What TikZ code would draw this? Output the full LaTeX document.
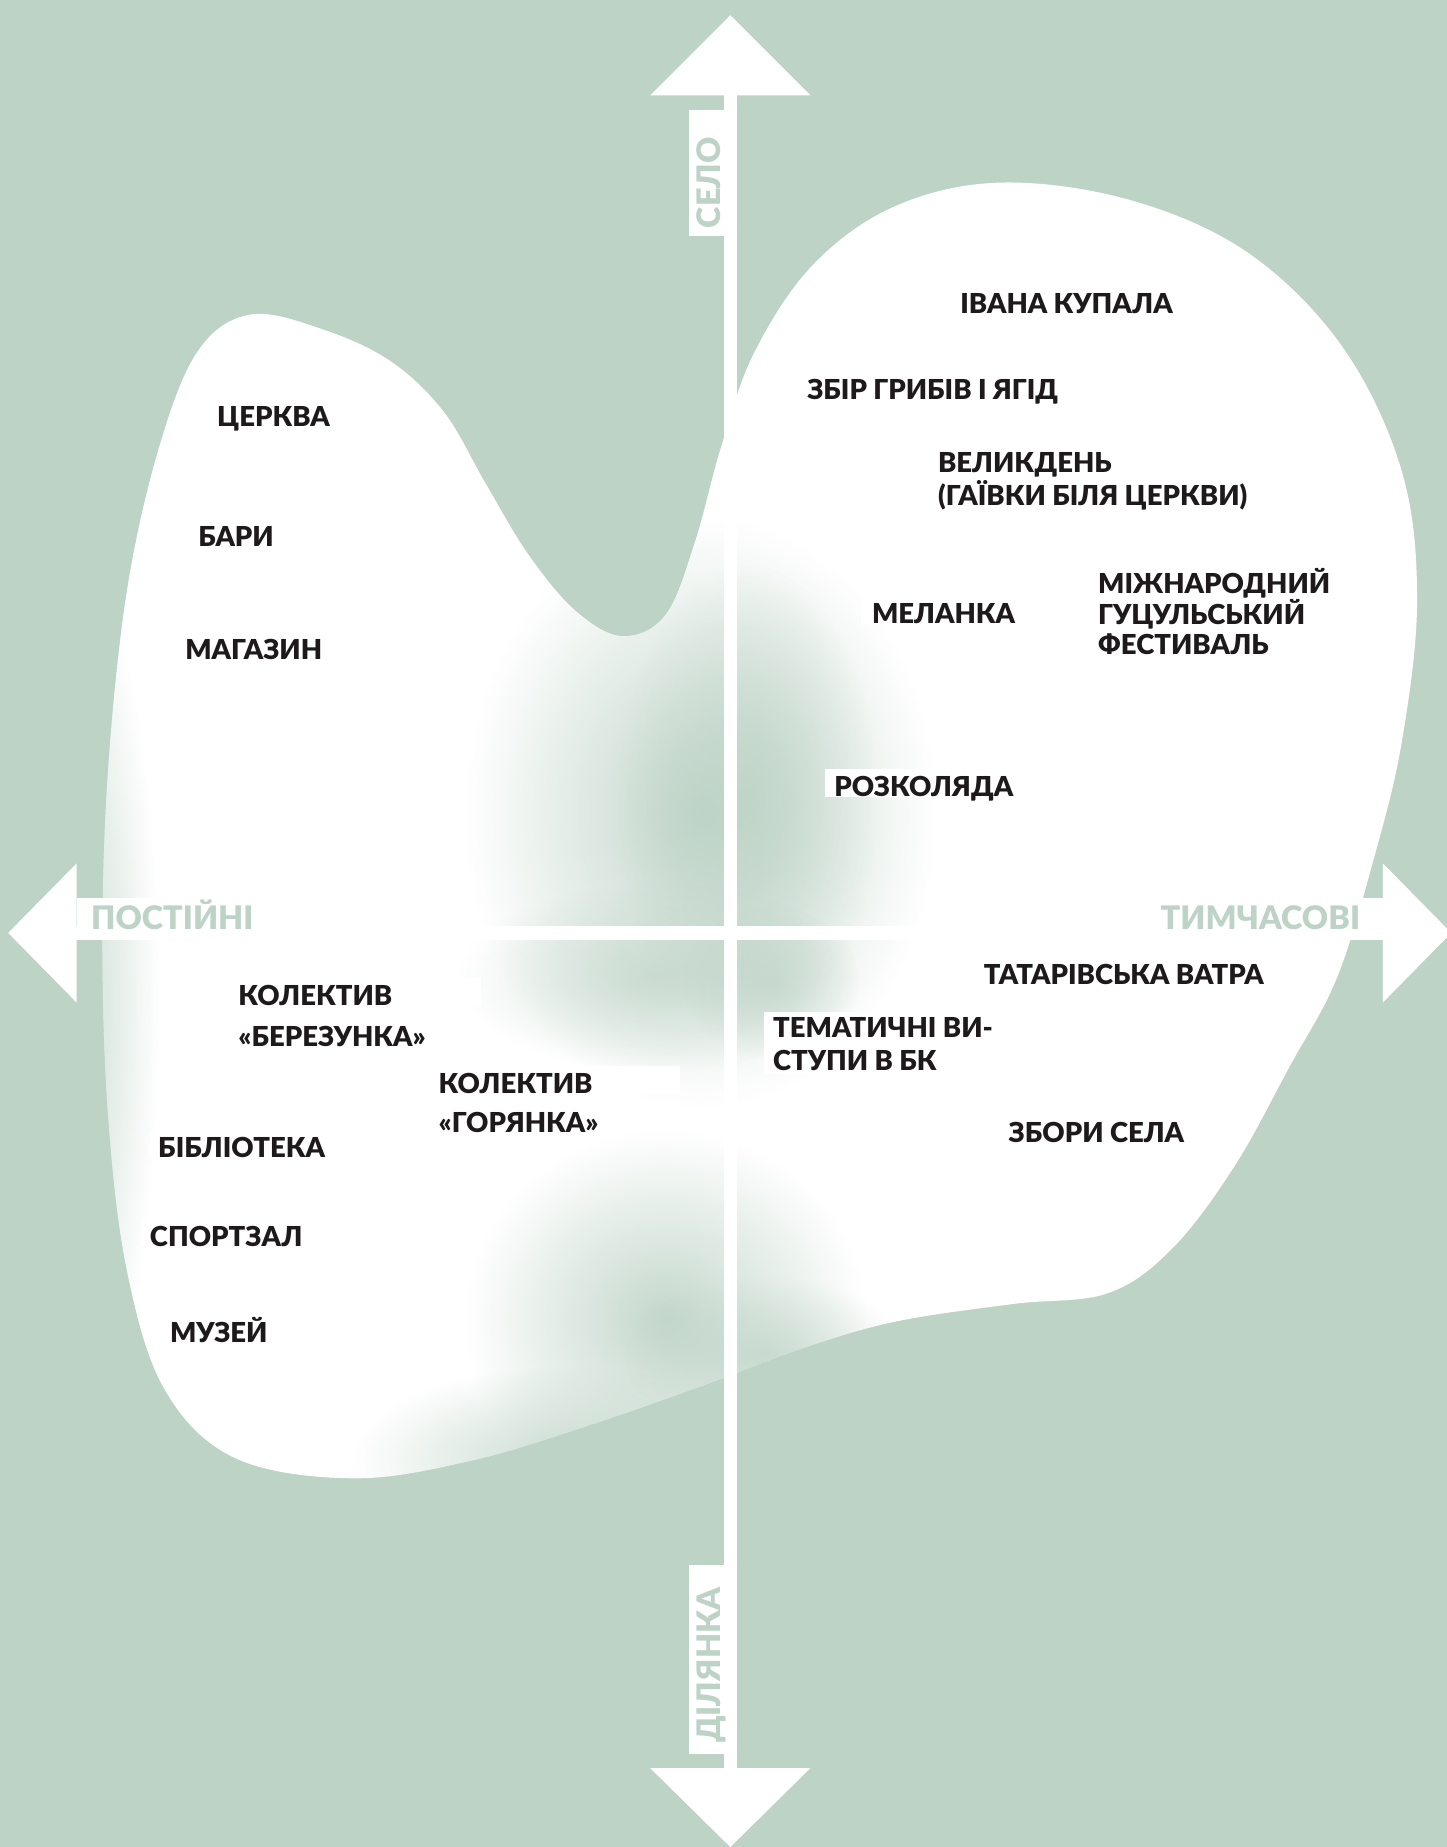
\documentclass[tikz,border=0pt]{standalone}
\usepackage{fontspec}
\setmainfont{Lato}[BoldFont={Lato Black}]
\usetikzlibrary{fadings}
\definecolor{bgc}{RGB}{189,211,198}
\definecolor{ink}{RGB}{30,26,27}
\tikzfading[name=softspot, inner color=transparent!0, outer color=transparent!100]
\def\blobpath{plot[smooth cycle, tension=0.6] coordinates {
(213,267) (275,280) (332,307) (377,350) (412,410) (448,470) (488,518) (528,540) (565,522)
(590,460) (612,380) (640,300) (690,225) (760,175) (850,155) (960,170) (1060,215)
(1140,295) (1190,400) (1203,510) (1190,630) (1166,730) (1135,830) (1095,905)
(1048,990) (995,1060) (940,1098) (860,1107) (760,1122) (680,1145) (600,1175)
(500,1210) (400,1240) (300,1255) (200,1238) (140,1180) (108,1080) (92,950)
(87,800) (92,650) (108,500) (135,380) (168,298)}}
\begin{document}
\begin{tikzpicture}[x=0.6pt,y=-0.6pt,
  lbl/.style={font=\fontsize{14}{16.8}\selectfont\bfseries, text=ink, inner sep=0pt, anchor=base west},
  axlbl/.style={font=\fontsize{16.5}{18}\selectfont\bfseries, text=bgc, inner sep=0pt, anchor=base west},
  hl/.style={fill=white},
  arrowshape/.style={fill=white},
  shadow/.style={fill=bgc, path fading=softspot}]
% background
\fill[bgc] (0,0) rectangle (1228,1568);
\useasboundingbox (0,0) rectangle (1228,1568);
% blob
\fill[white] \blobpath;
\begin{scope}
\clip \blobpath;
\fill[shadow, fill opacity=0.95] (595,690) ellipse (200 and 250);
\fill[shadow, fill opacity=0.8] (635,680) ellipse (110 and 200);
\fill[shadow, fill opacity=0.7] (560,830) ellipse (170 and 80);
\fill[shadow, fill opacity=0.9] (565,1120) ellipse (170 and 160);
\fill[shadow, fill opacity=0.8] (60,850) ellipse (75 and 380);
\fill[shadow, fill opacity=0.8] (480,1240) ellipse (180 and 80);
\fill[shadow, fill opacity=0.6] (655,835) ellipse (75 and 65);
\fill[shadow, fill opacity=0.7] (650,1150) ellipse (120 and 65);
\end{scope}
% label highlight boxes
\fill[hl] (177,338) rectangle (365,362);
\fill[hl] (164,441) rectangle (315,464);
\fill[hl] (151,537) rectangle (338,560);
\fill[hl] (678,315) rectangle (900,339);
\fill[hl] (789,378) rectangle (1062,431);
\fill[hl] (731,506) rectangle (927,530);
\fill[hl] (927,480) rectangle (1132,558);
\fill[hl] (700,653) rectangle (913,677);
\fill[hl] (649,859) rectangle (842,912);
\fill[hl] (197,830) rectangle (408,854);
\fill[hl] (197,864) rectangle (408,888);
\fill[hl] (365,905) rectangle (577,929);
\fill[hl] (365,938) rectangle (577,961);
\fill[hl] (127,960) rectangle (316,983);
\fill[hl] (120,1035) rectangle (308,1058);
\fill[hl] (136,1116) rectangle (325,1140);
% axes
\fill[arrowshape] (614.3,60) rectangle (625.7,1510);
\fill[arrowshape] (620,13) -- (688,81) -- (552,81) -- cycle;
\fill[arrowshape] (552,1501) -- (688,1501) -- (620,1568) -- cycle;
\fill[arrowshape] (50,786.3) rectangle (1185,797.7);
\fill[arrowshape] (7,792) -- (65,733) -- (65,851) -- cycle;
\fill[arrowshape] (1174,733) -- (1232,792) -- (1174,851) -- cycle;
% axis label boxes
\fill[hl] (585,93) rectangle (614.5,200);
\fill[hl] (585,1329) rectangle (614.5,1489);
\fill[hl] (65,762) rectangle (261,787);
\fill[hl] (975,762) rectangle (1174,787);
\node[axlbl, rotate=90] (selo) at (611.5,194) {СЕЛО};
\node[axlbl, rotate=90] (dilianka) at (611.5,1480) {ДІЛЯНКА};
\node[axlbl] (postiini) at (77,789) {ПОСТІЙНІ};
\node[axlbl] (tymchasovi) at (985,789) {ТИМЧАСОВІ};
% labels
\node[lbl] (tserkva) at (184,362) {ЦЕРКВА};
\node[lbl] (bary) at (168,464) {БАРИ};
\node[lbl] (mahazyn) at (157,560) {МАГАЗИН};
\node[lbl] (kupala) at (815,266) {ІВАНА КУПАЛА};
\node[lbl] (zbir) at (685,339) {ЗБІР ГРИБІВ І ЯГІД};
\node[lbl] (velykden) at (796,401) {ВЕЛИКДЕНЬ};
\node[lbl] (haivky) at (796,429) {(ГАЇВКИ БІЛЯ ЦЕРКВИ)};
\node[lbl] (melanka) at (740,529) {МЕЛАНКА};
\node[lbl] (mizhn) at (932,504) {МІЖНАРОДНИЙ};
\node[lbl] (hutsul) at (932,530) {ГУЦУЛЬСЬКИЙ};
\node[lbl] (festyval) at (932,556) {ФЕСТИВАЛЬ};
\node[lbl] (rozkoliada) at (708,676) {РОЗКОЛЯДА};
\node[lbl] (vatra) at (835,836) {ТАТАРІВСЬКА ВАТРА};
\node[lbl] (temat1) at (656,881) {ТЕМАТИЧНІ ВИ-};
\node[lbl] (temat2) at (656,909) {СТУПИ В БК};
\node[lbl] (zbory) at (856,970) {ЗБОРИ СЕЛА};
\node[lbl] (kolektyv1) at (202,854) {КОЛЕКТИВ};
\node[lbl] (berezunka) at (202,888) {«БЕРЕЗУНКА»};
\node[lbl] (kolektyv2) at (372,928) {КОЛЕКТИВ};
\node[lbl] (horianka) at (372,961) {«ГОРЯНКА»};
\node[lbl] (biblioteka) at (134,983) {БІБЛІОТЕКА};
\node[lbl] (sportzal) at (127,1058) {СПОРТЗАЛ};
\node[lbl] (muzei) at (144,1140) {МУЗЕЙ};
\end{tikzpicture}
\end{document}
